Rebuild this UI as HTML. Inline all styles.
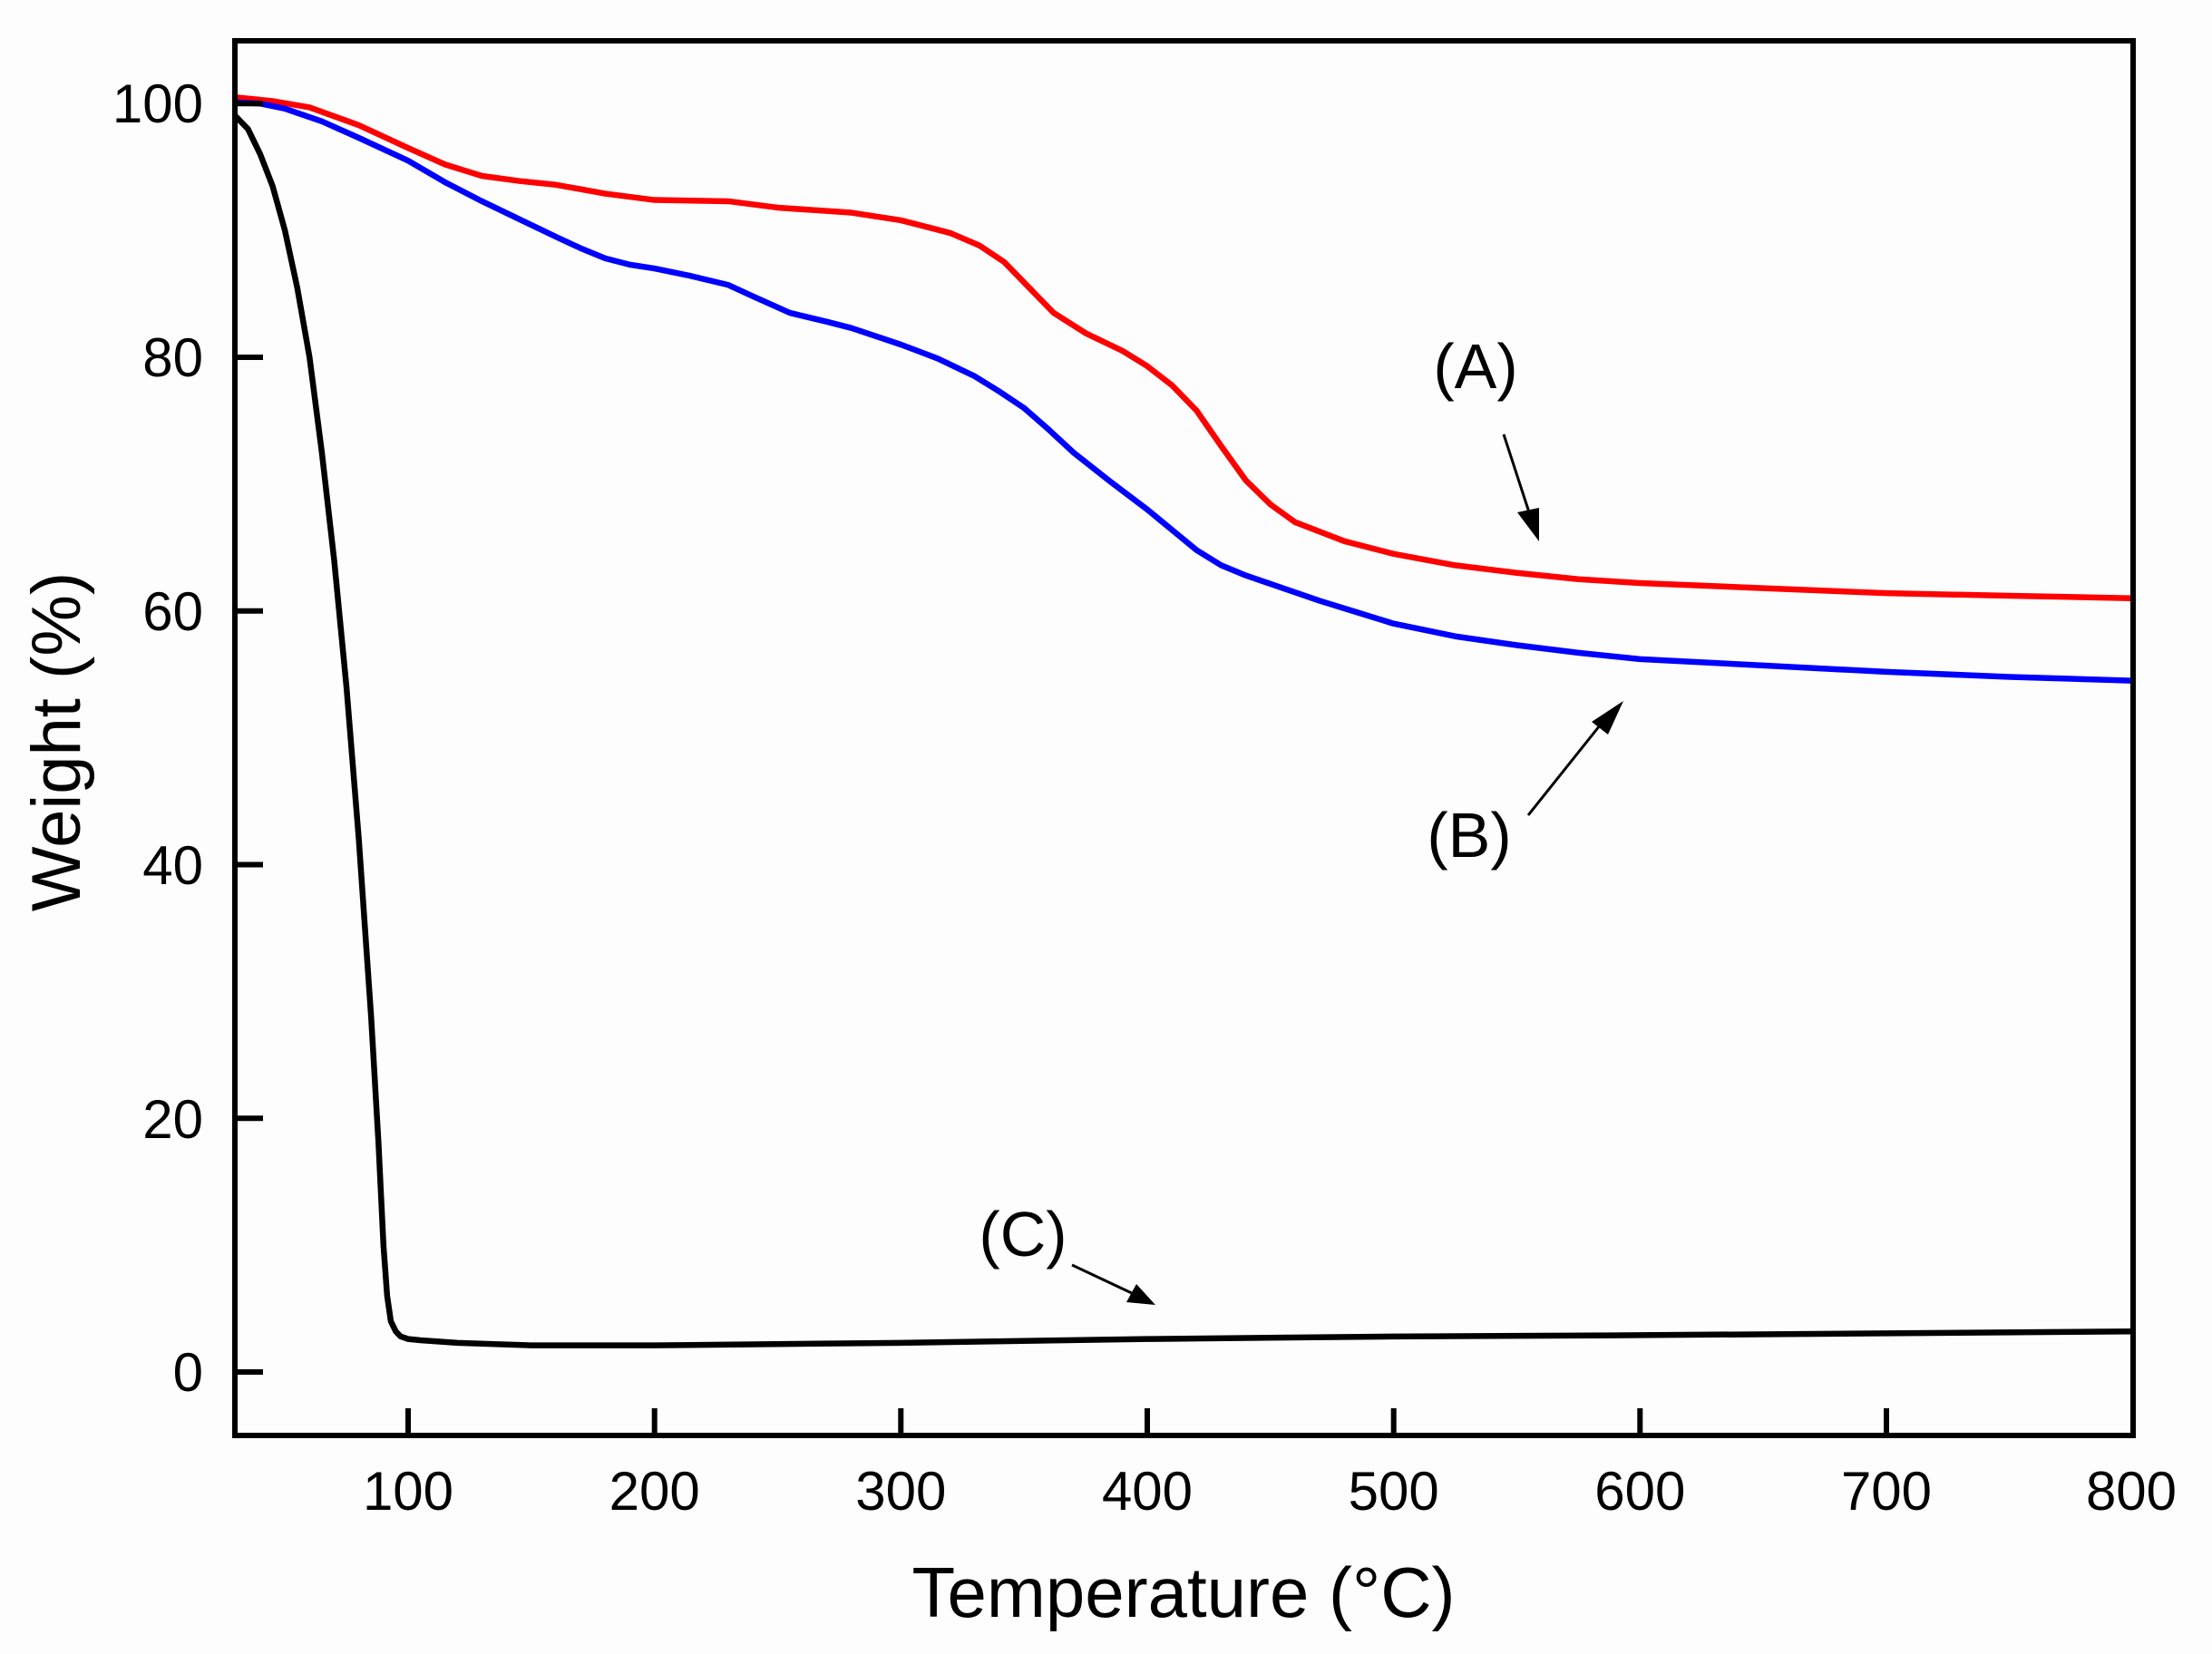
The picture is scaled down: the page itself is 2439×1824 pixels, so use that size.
<!DOCTYPE html>
<html><head><meta charset="utf-8"><style>
html,body{margin:0;padding:0;background:#fff;}
svg{display:block;}
text{font-family:"Liberation Sans",Arial,sans-serif;fill:#000;}
</style></head><body>
<svg width="2439" height="1824" viewBox="0 0 2439 1824" xmlns="http://www.w3.org/2000/svg">
<rect width="2439" height="1824" fill="#fdfdfd"/>
<defs>
<clipPath id="c"><rect x="262" y="48" width="2088" height="1532"/></clipPath>
</defs>
<g clip-path="url(#c)" fill="none" stroke-linejoin="round" stroke-linecap="round">
<g transform="translate(259.8,1513) scale(2.7167,-13.9875) translate(-30,0)">
<polyline vector-effect="non-scaling-stroke" stroke="#ff0000" stroke-width="6.5" points="30,100.5 45,100.2 60,99.7 80,98.3 100,96.5 115,95.2 130,94.3 145,93.9 160,93.6 180,92.9 200,92.4 230,92.3 250,91.8 280,91.4 300,90.8 320,89.8 332,88.8 342,87.5 352,85.5 362,83.5 375,81.9 390,80.5 400,79.3 410,77.8 420,75.8 430,73 440,70.3 450,68.4 460,67 480,65.5 500,64.5 525,63.6 550,63 575,62.5 600,62.2 650,61.8 700,61.4 750,61.2 800,61"/>
<polyline vector-effect="non-scaling-stroke" stroke="#0000ff" stroke-width="6.5" points="30,100.1 40,100 50,99.6 65,98.6 80,97.3 100,95.5 115,93.8 130,92.3 145,90.9 160,89.5 170,88.6 180,87.8 190,87.3 200,87 215,86.4 230,85.7 240,84.8 255,83.5 270,82.8 280,82.3 300,81 315,79.9 330,78.5 340,77.3 350,76 360,74.3 370,72.5 385,70.2 400,68 410,66.4 420,64.8 430,63.6 440,62.8 455,61.8 470,60.8 485,59.9 500,59 525,58 550,57.3 575,56.7 600,56.2 650,55.7 700,55.2 750,54.8 800,54.5"/>
<polyline vector-effect="non-scaling-stroke" stroke="#000" stroke-width="6.5" points="30,99 35,98 40,96 45,93.5 50,90 55,85.5 60,80 65,72.5 70,64 75,54 80,42 85,28 88,18 90,10 91.5,6 93,4 95,3.2 97,2.8 100,2.6 105,2.5 120,2.3 150,2.1 200,2.1 300,2.3 400,2.6 500,2.8 600,2.9 700,3.05 800,3.2"/>
</g>
</g>
<rect x="259" y="45" width="2093" height="1538" fill="none" stroke="#000" stroke-width="6"/>
<g stroke="#000" stroke-width="6">
<line x1="450" y1="1583" x2="450" y2="1553"/>
<line x1="721.7" y1="1583" x2="721.7" y2="1553"/>
<line x1="993.3" y1="1583" x2="993.3" y2="1553"/>
<line x1="1265" y1="1583" x2="1265" y2="1553"/>
<line x1="1536.7" y1="1583" x2="1536.7" y2="1553"/>
<line x1="1808.3" y1="1583" x2="1808.3" y2="1553"/>
<line x1="2080" y1="1583" x2="2080" y2="1553"/>
<line x1="259" y1="1513" x2="290" y2="1513"/>
<line x1="259" y1="1233.3" x2="290" y2="1233.3"/>
<line x1="259" y1="953.5" x2="290" y2="953.5"/>
<line x1="259" y1="673.8" x2="290" y2="673.8"/>
<line x1="259" y1="394" x2="290" y2="394"/>
<line x1="259" y1="114.3" x2="290" y2="114.3"/>
</g>
<g font-size="60" text-anchor="middle">
<text x="450" y="1665">100</text>
<text x="721.7" y="1665">200</text>
<text x="993.3" y="1665">300</text>
<text x="1265" y="1665">400</text>
<text x="1536.7" y="1665">500</text>
<text x="1808.3" y="1665">600</text>
<text x="2080" y="1665">700</text>
<text x="2350" y="1665">800</text>
</g>
<g font-size="60" text-anchor="end">
<text x="224" y="1534">0</text>
<text x="224" y="1255">20</text>
<text x="224" y="975">40</text>
<text x="224" y="695">60</text>
<text x="224" y="415">80</text>
<text x="224" y="135">100</text>
</g>
<text x="1305" y="1783" font-size="78" text-anchor="middle">Temperature (°C)</text>
<text transform="translate(88,818) rotate(-90)" font-size="76" text-anchor="middle">Weight (%)</text>
<g font-size="70" text-anchor="middle">
<text x="1627" y="428">(A)</text>
<text x="1620" y="945">(B)</text>
<text x="1128" y="1385">(C)</text>
</g>
<g stroke="#000" stroke-width="3">
<line x1="1658" y1="479" x2="1687" y2="568"/>
<line x1="1685" y1="899" x2="1768" y2="795"/>
<line x1="1182" y1="1395" x2="1250" y2="1427"/>
</g>
<g fill="#000">
<polygon points="1697,597 1673,565 1697,560"/>
<polygon points="1790,773 1755,796 1773,810"/>
<polygon points="1274,1439 1242,1436 1253,1416"/>
</g>
</svg>
</body></html>
